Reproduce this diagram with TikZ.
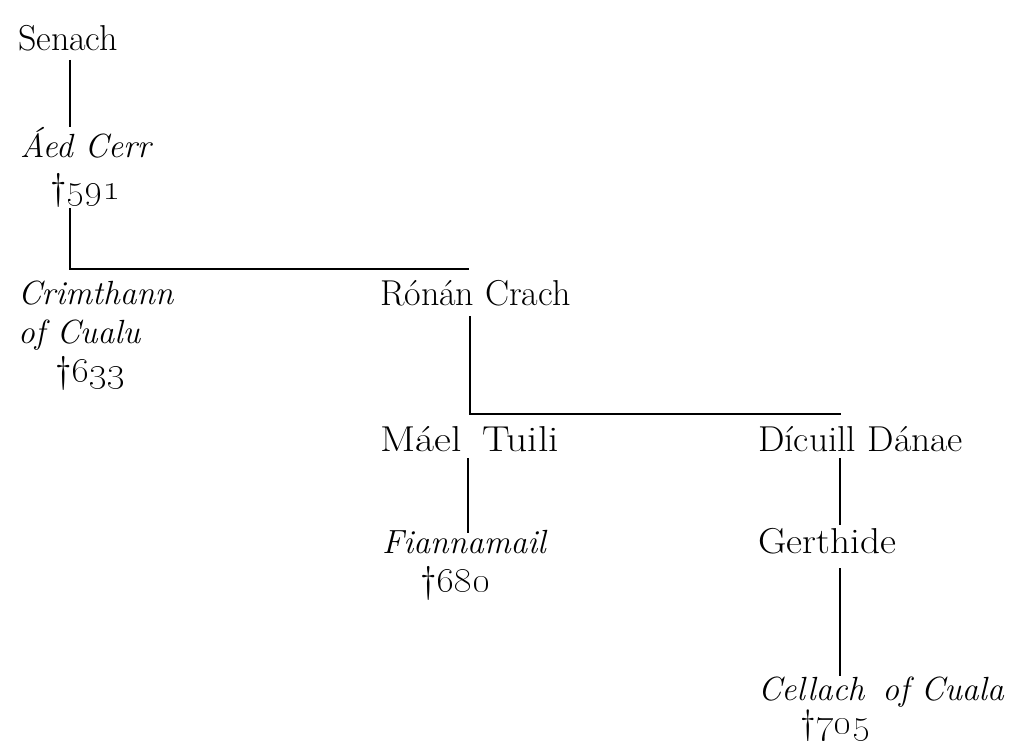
\documentclass[tikz,border=0pt]{standalone}
\usepackage{graphicx}
\begin{document}
\begin{tikzpicture}[x=1pt,y=-1pt,
  nm/.style={anchor=base west,inner sep=0pt,outer sep=0pt,font=\fontsize{36}{42}\selectfont},
  it/.style={nm,font=\fontsize{33.5}{40}\selectfont\itshape},
  dt/.style={nm,font=\fontsize{37}{42}\selectfont},
  link/.style={line width=2.3pt,line cap=butt}]
\useasboundingbox (0,0) rectangle (1018,741);
% names
\node[nm] (senach) at (18,51) {Senach};
\node[it] (aed) at (20,158) {Áed Cerr};
\node[dt] (aedd) at (50,200) {\dag\scalebox{1.12}[1]{\oldstylenums{591}}};
\node[it] (crim) at (18,304) {Crimthann};
\node[it] (crim2) at (18,343) {of Cualu};
\node[dt] (crimd) at (55,382) {\dag\scalebox{1.12}[1]{\oldstylenums{633}}};
\node[nm] (ronan) at (380,305) {Rónán Crach};
\node[nm] (mael) at (380,451) {\scalebox{1.15}[1]{Máel\hspace{0.5em}Tuili}};
\node[it] (fian) at (382,553) {Fiannamail};
\node[dt] (fiand) at (420,592) {\dag\scalebox{1.12}[1]{\oldstylenums{680}}};
\node[nm] (dicu) at (758,451) {\scalebox{1.04}[1]{Dícuill Dánae}};
\node[nm] (gert) at (758,553) {\scalebox{1.09}[1]{Gerthide}};
\node[it] (cell) at (758,700) {Cellach\hspace{18pt}of Cuala};
\node[dt,font=\fontsize{35}{40}\selectfont] (celld) at (800,734) {\dag\scalebox{1.15}[1]{\oldstylenums{705}}};
% connector points
\coordinate (s1) at (70,60);
\coordinate (s2) at (70,127);
\coordinate (a1) at (70,208);
\coordinate (a2) at (70,269);
\coordinate (r0) at (469,269);
\coordinate (r1) at (470,316);
\coordinate (r2) at (470,414);
\coordinate (d0) at (841,414);
\coordinate (m1) at (468,458);
\coordinate (m2) at (468,533);
\coordinate (g1) at (840,458);
\coordinate (g2) at (840,525);
\coordinate (c1) at (840,568);
\coordinate (c2) at (840,676);
\draw[link] (s1) -- (s2);
\draw[link] (a1) -- (a2) -- (r0);
\draw[link] (r1) -- (r2) -- (d0);
\draw[link] (m1) -- (m2);
\draw[link] (g1) -- (g2);
\draw[link] (c1) -- (c2);
\end{tikzpicture}
\end{document}
